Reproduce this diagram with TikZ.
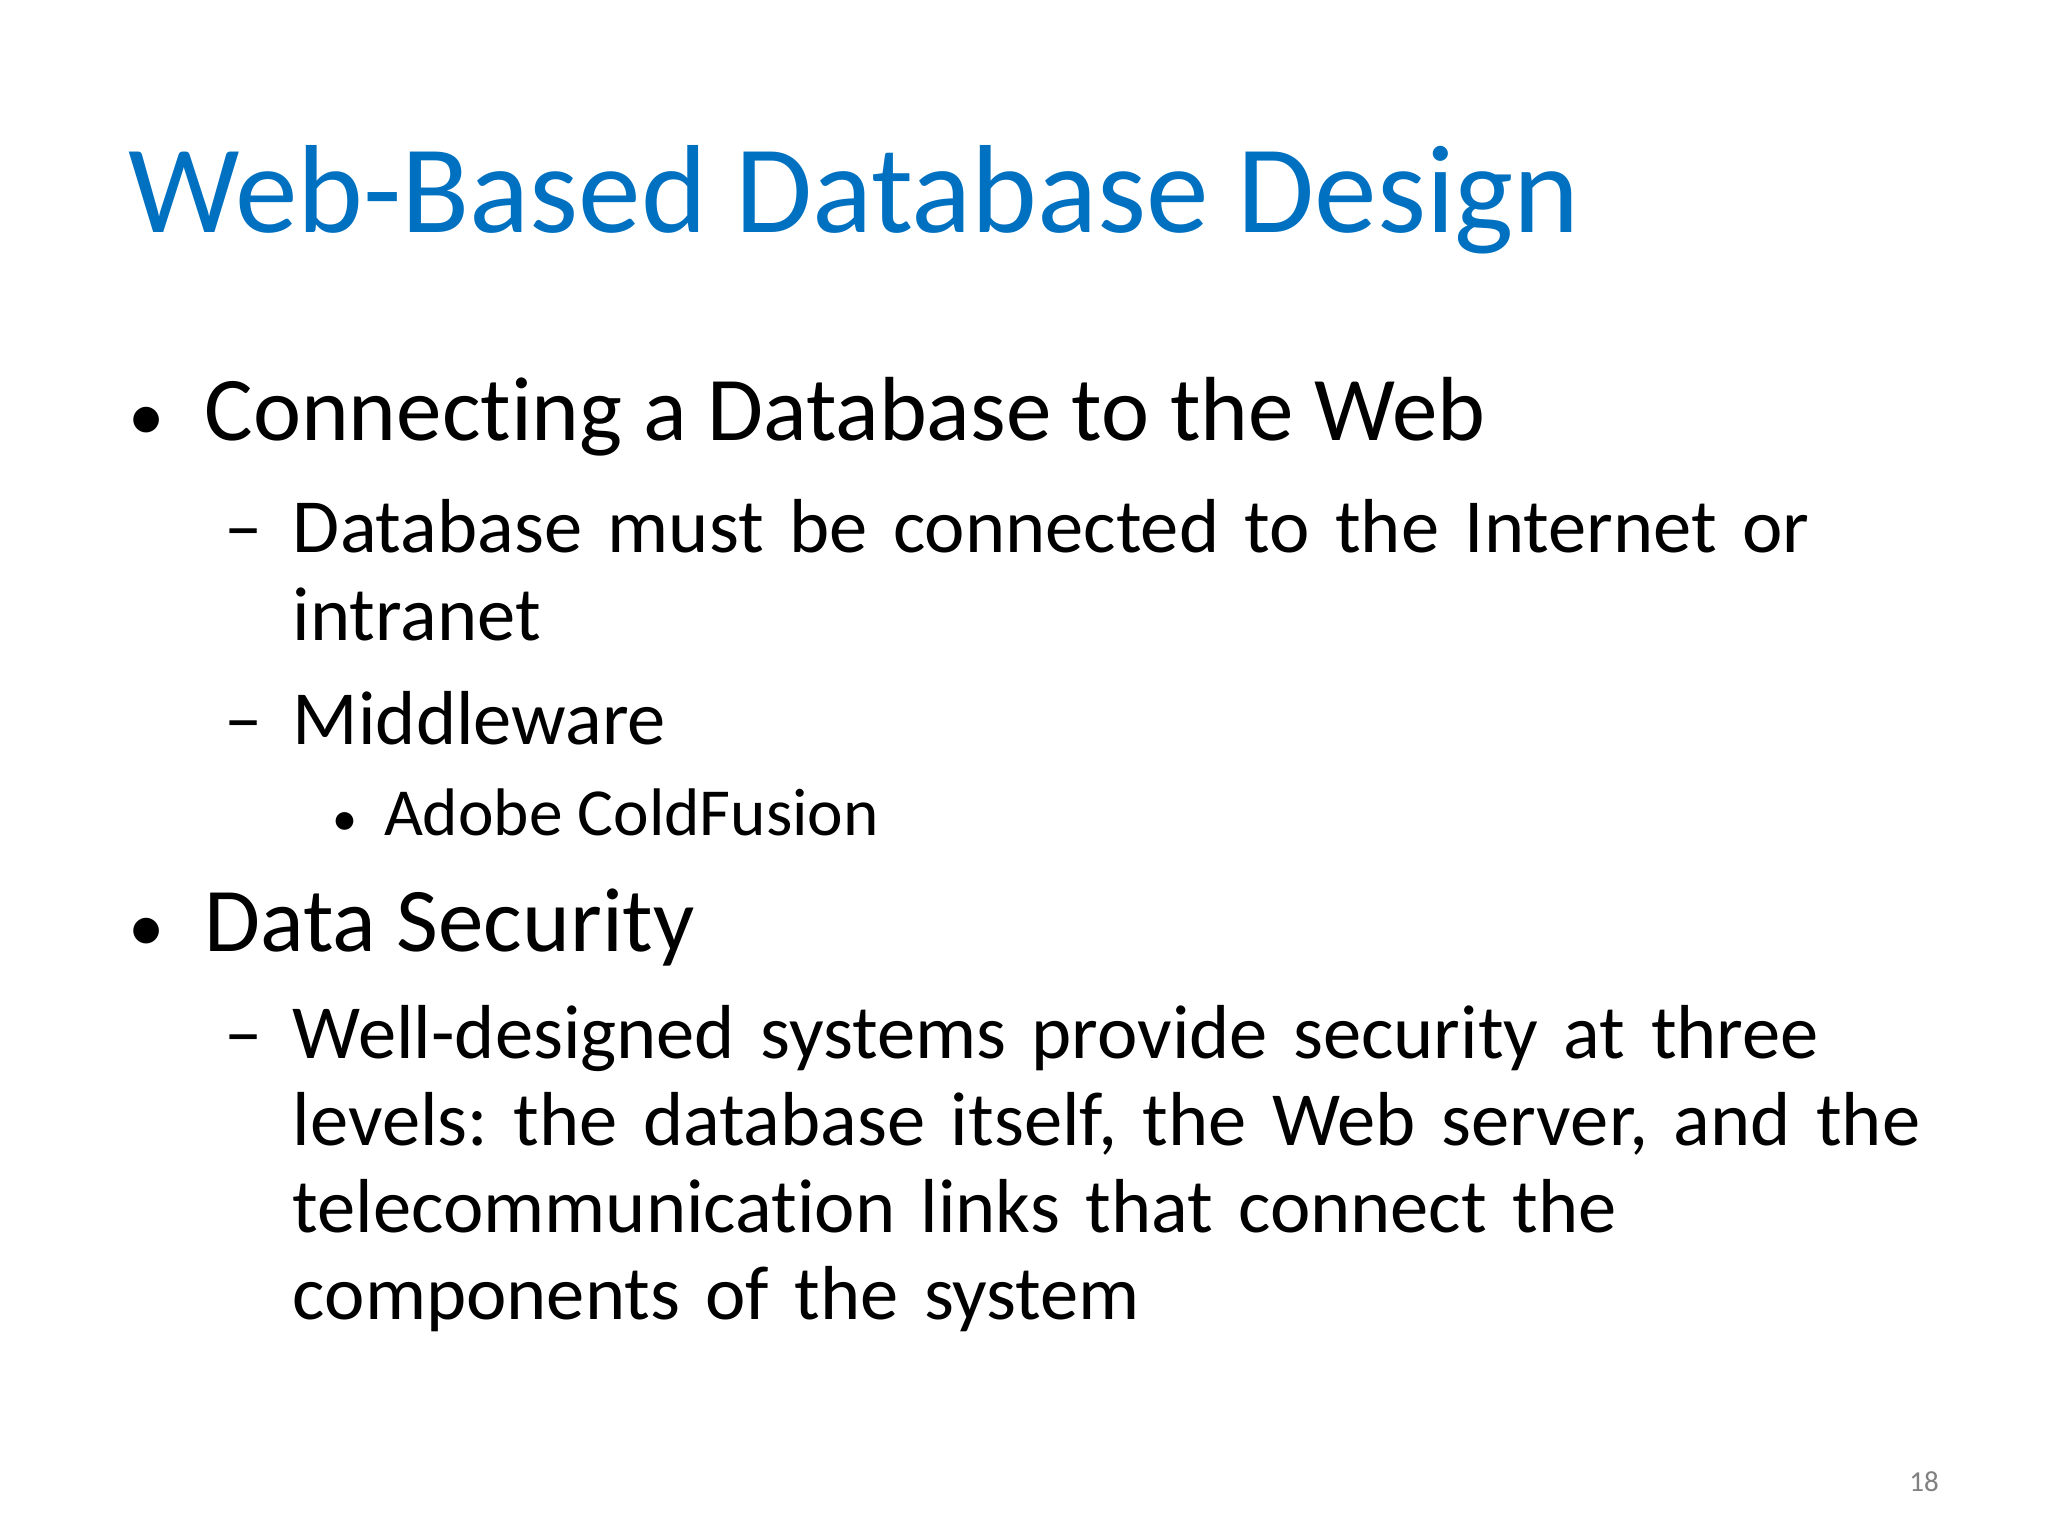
\documentclass[tikz,border=0pt]{standalone}
\usepackage{fontspec}
\setmainfont[Ligatures={NoCommon,NoRare}]{Carlito}
\definecolor{titleblue}{RGB}{0,112,192}
\begin{document}
\frenchspacing
\begin{tikzpicture}[x=1pt,y=-1pt,
  txt/.style={anchor=base west,inner sep=0pt,outer sep=0pt},
  lone/.style={txt,font=\fontsize{69}{80}\selectfont},
  ltwo/.style={txt,font=\fontsize{58}{66}\selectfont,align=left},
  lthree/.style={txt,font=\fontsize{51}{55}\selectfont}]
\useasboundingbox (0,0) rectangle (1552,1164);
\node[txt,font=\fontsize{95}{110}\selectfont,text=titleblue] (title) at (97,176) {Web-Based Database Design};
\node[txt,font=\fontsize{55}{60}\selectfont] (b1) at (97,334) {•};
\node[lone] (t1) at (155,334) {Connecting a Database to the Web};
\node[ltwo] (d1) at (170,419) {–};
\node[ltwo,text width=1300pt] (t2) at (222,419) {Database must be connected to the Internet or\\intranet};
\node[ltwo] (d2) at (170,564) {–};
\node[ltwo] (t3) at (222,564) {Middleware};
\node[txt,font=\fontsize{38}{40}\selectfont] (b3) at (252,633) {•};
\node[lthree] (t4) at (291,633) {Adobe ColdFusion};
\node[txt,font=\fontsize{55}{60}\selectfont] (b2) at (97,721) {•};
\node[lone] (t5) at (155,721) {Data Security};
\node[ltwo] (d3) at (170,802) {–};
\node[ltwo,text width=1320pt] (t6) at (222,802) {Well-designed systems provide security at three\\levels: the database itself, the Web server, and the\\telecommunication links that connect the\\components of the system};
\node[txt,font=\fontsize{22}{26}\selectfont,text=gray] (pg) at (1447,1130) {18};
\end{tikzpicture}
\end{document}
